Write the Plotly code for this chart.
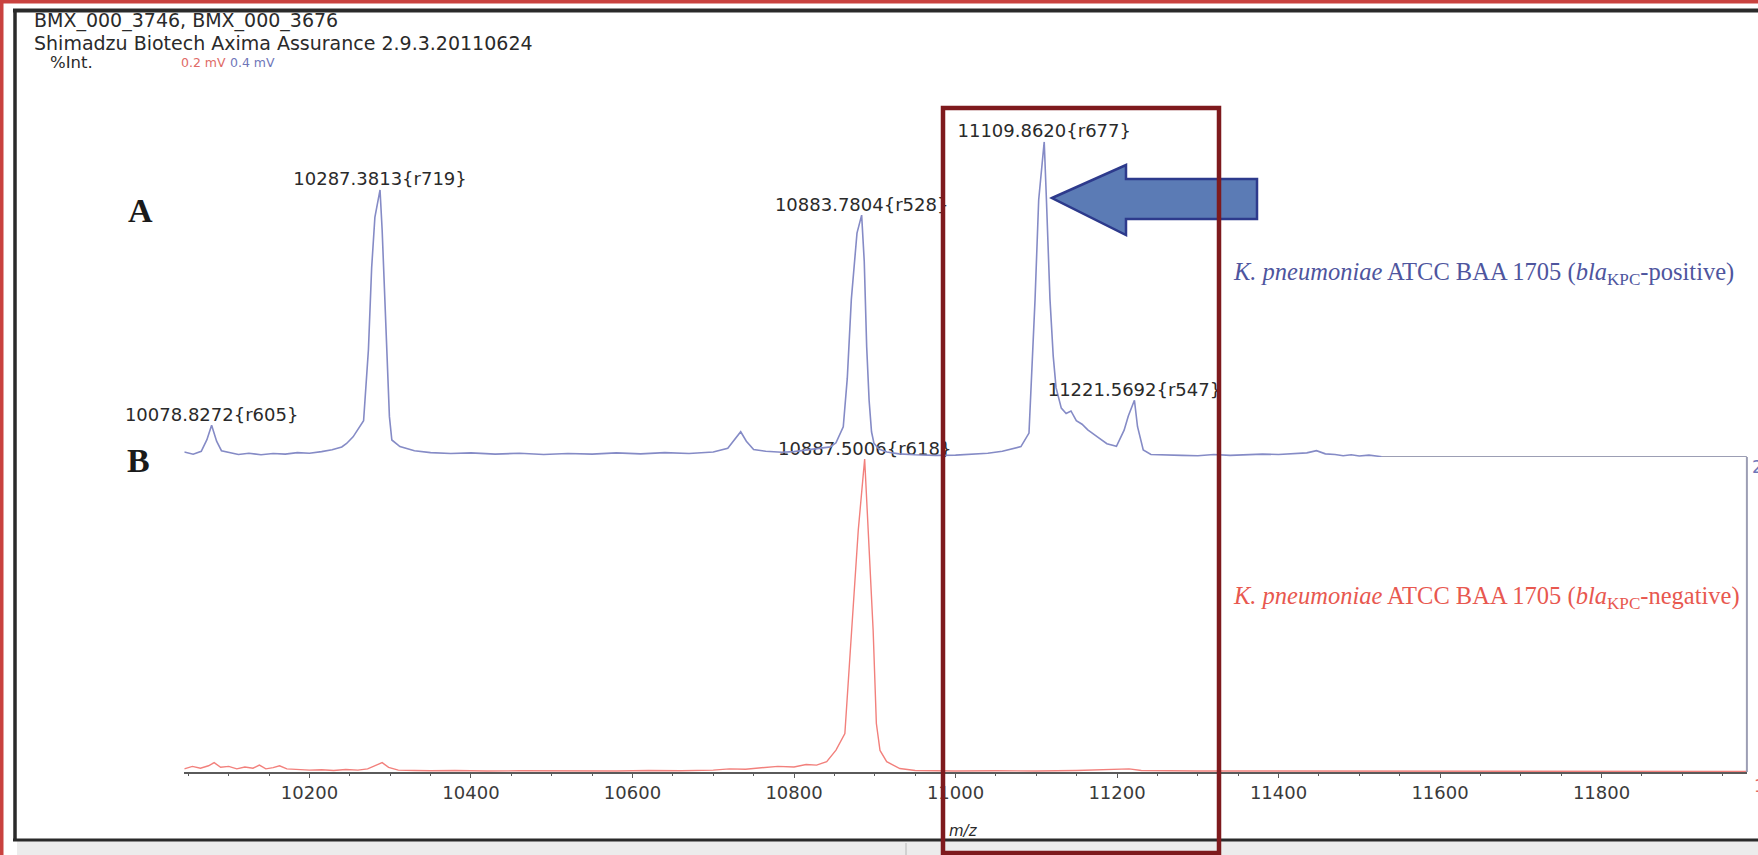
import plotly.graph_objects as go

W, H = 1758, 855

# ---------------- data ----------------
MZ_RANGE = [10045, 11980]
TICK_MZ = [10200, 10400, 10600, 10800, 11000, 11200, 11400, 11600, 11800]

# Spectrum A: K. pneumoniae ATCC BAA 1705 (blaKPC-positive), relative intensity (%)
A_mz = [10045, 10056, 10066, 10073, 10078.8272, 10085, 10091, 10100, 10112, 10125,
        10140, 10155, 10170, 10185, 10200, 10215, 10228, 10240, 10246, 10254,
        10261, 10267, 10273, 10277, 10281, 10287.3813, 10290, 10293, 10296, 10299,
        10302, 10312, 10330, 10350, 10375, 10400, 10430, 10460, 10490, 10520,
        10550, 10580, 10610, 10640, 10670, 10700, 10718, 10728, 10734, 10741,
        10750, 10765, 10785, 10800, 10815, 10830, 10845, 10852, 10861, 10866,
        10871, 10878, 10883.7804, 10887, 10890, 10893, 10896, 10899, 10905, 10915,
        10930, 10950, 10975, 11000, 11020, 11040, 11058, 11072, 11081, 11091,
        11098.5, 11103, 11109.8620, 11112.6, 11117, 11121, 11124.5, 11131, 11137, 11143,
        11149.6, 11156.7, 11163.8, 11175.7, 11187.5, 11199.3, 11208.8, 11214, 11221.5692, 11225.4,
        11232.5, 11242, 11260, 11280, 11300, 11320, 11340, 11360, 11380, 11400,
        11420, 11435, 11447, 11458, 11470, 11480, 11490, 11500, 11512, 11528]
A_int = [1.6, 0.9, 1.8, 5.5, 10.1, 5.0, 2.0, 1.5, 0.8, 1.2,
         0.7, 1.1, 0.9, 1.4, 1.2, 1.7, 2.3, 3.2, 4.3, 6.4,
         9.0, 11.5, 34.0, 60.0, 76.0, 84.7, 72.0, 52.0, 30.0, 12.8,
         5.4, 3.3, 2.0, 1.4, 1.1, 1.3, 0.9, 1.2, 0.8, 1.1,
         0.9, 1.3, 1.0, 1.4, 1.1, 1.6, 2.8, 6.0, 8.0, 5.0,
         2.4, 1.8, 1.5, 1.7, 2.2, 2.6, 3.2, 4.5, 9.6, 25.0,
         50.0, 71.0, 76.7, 62.0, 35.0, 18.0, 8.0, 4.4, 2.5, 1.6,
         1.0, 0.7, 0.5, 0.6, 0.8, 1.2, 1.8, 2.6, 3.3, 7.6,
         50.0, 81.5, 100.0, 81.5, 50.0, 32.0, 22.0, 15.5, 13.8, 14.6,
         11.5, 10.4, 8.6, 6.4, 4.2, 3.4, 8.5, 13.0, 18.0, 9.6,
         2.2, 0.8, 0.6, 0.5, 0.4, 0.8, 0.5, 0.7, 0.9, 0.8,
         1.0, 1.3, 2.0, 1.0, 0.8, 0.4, 0.7, 0.3, 0.6, 0.1]

# Spectrum B: K. pneumoniae ATCC BAA 1705 (blaKPC-negative), relative intensity (%)
B_mz = [10045, 10055, 10065, 10075, 10082, 10090, 10100, 10110, 10120, 10130,
        10138, 10146, 10155, 10163, 10172, 10185, 10200, 10215, 10230, 10245,
        10260, 10272, 10282, 10290, 10298, 10310, 10330, 10350, 10380, 10420,
        10460, 10500, 10540, 10580, 10620, 10660, 10700, 10720, 10740, 10760,
        10780, 10800, 10815, 10828, 10840.5, 10852, 10863, 10871.4, 10879.6, 10887.5006,
        10892, 10898, 10902, 10906.5, 10914.8, 10931, 10950, 10980, 11000, 11050,
        11100, 11150, 11200, 11215, 11230, 11300, 11400, 11500, 11600, 11700,
        11800, 11900, 11980]
B_int = [1.0, 1.8, 1.2, 2.0, 3.0, 1.5, 1.8, 1.0, 1.6, 1.2,
         2.2, 1.0, 1.4, 2.0, 1.0, 0.8, 0.6, 0.7, 0.5, 0.8,
         0.6, 1.0, 2.2, 3.0, 1.5, 0.6, 0.5, 0.4, 0.5, 0.3,
         0.4, 0.3, 0.4, 0.3, 0.5, 0.4, 0.6, 1.0, 0.9, 1.4,
         1.8, 1.6, 2.4, 2.2, 3.3, 7.0, 12.3, 45.3, 77.3, 100.0,
         77.0, 45.3, 15.5, 6.9, 3.3, 1.1, 0.5, 0.3, 0.3, 0.4,
         0.3, 0.5, 0.8, 1.0, 0.5, 0.3, 0.3, 0.3, 0.2, 0.3,
         0.2, 0.3, 0.2]

A_peak_mz = [10078.8272, 10287.3813, 10883.7804, 11109.8620, 11221.5692]
A_peak_labels = ["10078.8272{r605}", "10287.3813{r719}", "10883.7804{r528}",
                 "11109.8620{r677}", "11221.5692{r547}"]
B_peak_mz = [10887.5006]
B_peak_labels = ["10887.5006{r618}"]

# ---------------- page geometry (pixels -> paper) ----------------
def px(x):
    return x / W


def py(y):
    return 1 - y / H


X_DOMAIN = [px(184.3), px(1746.9)]
B_DOMAIN = [py(772), py(459)]
A_DOMAIN = [py(457), py(141.7)]

BLUE_LINE = "#858bc6"
RED_LINE = "#f2807c"
BLUE_TEXT = "#4e559e"
RED_TEXT = "#e8584f"
DARK = "#2a2a2a"
SANS = "DejaVu Sans"
SERIF = "Liberation Serif"

A_lookup = dict(zip(A_mz, A_int))
B_lookup = dict(zip(B_mz, B_int))

fig = go.Figure()

fig.add_trace(go.Scatter(x=A_mz, y=A_int, mode="lines", xaxis="x", yaxis="y2",
                         line=dict(color=BLUE_LINE, width=1.6), hoverinfo="skip"))
fig.add_trace(go.Scatter(x=B_mz, y=B_int, mode="lines", xaxis="x", yaxis="y",
                         line=dict(color=RED_LINE, width=1.4), hoverinfo="skip"))

# peak annotations sit on the peaks they describe
fig.add_trace(go.Scatter(x=A_peak_mz, y=[A_lookup[m] for m in A_peak_mz], yaxis="y2",
                         mode="text", text=A_peak_labels, textposition="top center",
                         textfont=dict(family=SANS, size=18, color=DARK),
                         cliponaxis=False, hoverinfo="skip"))
fig.add_trace(go.Scatter(x=B_peak_mz, y=[B_lookup[m] for m in B_peak_mz], yaxis="y",
                         mode="text", text=B_peak_labels, textposition="top center",
                         textfont=dict(family=SANS, size=18, color=DARK),
                         cliponaxis=False, hoverinfo="skip"))

shapes = []
# outer red border and dark window frame
shapes += [
    dict(type="line", xref="paper", yref="paper", x0=0, x1=1, y0=py(1.5), y1=py(1.5),
         line=dict(color="#c9423f", width=4)),
    dict(type="line", xref="paper", yref="paper", x0=px(1.5), x1=px(1.5), y0=0, y1=1,
         line=dict(color="#c9423f", width=4)),
    dict(type="line", xref="paper", yref="paper", x0=px(13), x1=1, y0=py(10.5), y1=py(10.5),
         line=dict(color="#2a2a2a", width=4)),
    dict(type="line", xref="paper", yref="paper", x0=px(15), x1=px(15), y0=py(9), y1=py(841),
         line=dict(color="#2a2a2a", width=3.5)),
    dict(type="rect", xref="paper", yref="paper", x0=px(17), x1=1, y0=0, y1=py(841),
         fillcolor="#ececec", line=dict(width=0)),
    dict(type="line", xref="paper", yref="paper", x0=px(13), x1=1, y0=py(840), y1=py(840),
         line=dict(color="#2a2a2a", width=3)),
    dict(type="line", xref="paper", yref="paper", x0=px(906), x1=px(906), y0=0, y1=py(843),
         line=dict(color="#c8c8c8", width=1.5)),
]
# frame of spectrum A continuing past the end of its trace
shapes += [
    dict(type="line", xref="x", yref="y2", x0=A_mz[-1], x1=MZ_RANGE[1], y0=0, y1=0,
         line=dict(color="#9c9eb4", width=2)),
    dict(type="line", xref="paper", yref="paper", x0=X_DOMAIN[1], x1=X_DOMAIN[1],
         y0=B_DOMAIN[0], y1=A_DOMAIN[0], line=dict(color="#9c9eb4", width=2)),
]
# arrow pointing at the 11109 peak
arrow_pts = [(1052, 198), (1126, 165), (1126, 179), (1257, 179), (1257, 219),
             (1126, 219), (1126, 235)]
path = "M " + " L ".join(f"{px(x):.5f},{py(y):.5f}" for x, y in arrow_pts) + " Z"
shapes.append(dict(type="path", xref="paper", yref="paper", path=path,
                   fillcolor="#5b7bb5", line=dict(color="#2d3a8c", width=2.5), layer="above"))
# highlight box around the 11109 region
shapes.append(dict(type="rect", xref="paper", yref="paper",
                   x0=px(943), x1=px(1219), y0=py(853), y1=py(108),
                   line=dict(color="#7e1a1d", width=4.5), fillcolor="rgba(0,0,0,0)",
                   layer="above"))

annotations = []


def text(x, y, s, size, color=DARK, family=SANS, xanchor="left"):
    annotations.append(dict(x=px(x), y=py(y), xref="paper", yref="paper", text=s,
                            showarrow=False, xanchor=xanchor, yanchor="middle",
                            font=dict(family=family, size=size, color=color)))


text(32, 21, "BMX_000_3746, BMX_000_3676", 19)
text(32, 43, "Shimadzu Biotech Axima Assurance 2.9.3.20110624", 19)
text(48, 62, "%Int.", 16.5)
text(179, 62, "0.2 mV", 12.5, color="#e06a66")
text(228, 62, "0.4 mV", 12.5, color="#6f76b9")

text(140, 211, "<b>A</b>", 34, color="#1a1a1a", family=SERIF, xanchor="center")
text(138, 460, "<b>B</b>", 34, color="#1a1a1a", family=SERIF, xanchor="center")

text(1231, 274, "<i>K. pneumoniae</i> ATCC BAA 1705 (<i>bla</i><sub>KPC</sub>-positive)",
     24.5, color=BLUE_TEXT, family=SERIF)
text(1231, 597, "<i>K. pneumoniae</i> ATCC BAA 1705 (<i>bla</i><sub>KPC</sub>-negative)",
     24.5, color=RED_TEXT, family=SERIF)

text(947, 831, "<i>m/z</i>", 15)
text(1750, 467, "2", 17, color="#6f76b9")
text(1752, 786, "1", 17, color="#e06a66")

fig.update_layout(
    width=W, height=H,
    margin=dict(l=0, r=0, t=0, b=0),
    paper_bgcolor="white", plot_bgcolor="rgba(0,0,0,0)",
    showlegend=False,
    shapes=shapes, annotations=annotations,
    xaxis=dict(domain=X_DOMAIN, range=MZ_RANGE, anchor="y",
               showgrid=False, zeroline=False,
               showline=True, linecolor="#5a5a5a", linewidth=1.5,
               ticks="outside", ticklen=4, tickwidth=1.2, tickcolor="#5a5a5a",
               tickmode="array", tickvals=TICK_MZ, tickformat="d",
               ticklabelstandoff=0,
               tickfont=dict(family=SANS, size=18, color="#3a3a3a"),
               minor=dict(tickmode="linear", tick0=10050, dtick=50, ticks="outside",
                          ticklen=2, tickcolor="#5a5a5a")),
    yaxis=dict(domain=B_DOMAIN, range=[0, 100], visible=False, anchor="x"),
    yaxis2=dict(domain=A_DOMAIN, range=[0, 100], visible=False, anchor="x"),
)

fig.write_html("out.html")
